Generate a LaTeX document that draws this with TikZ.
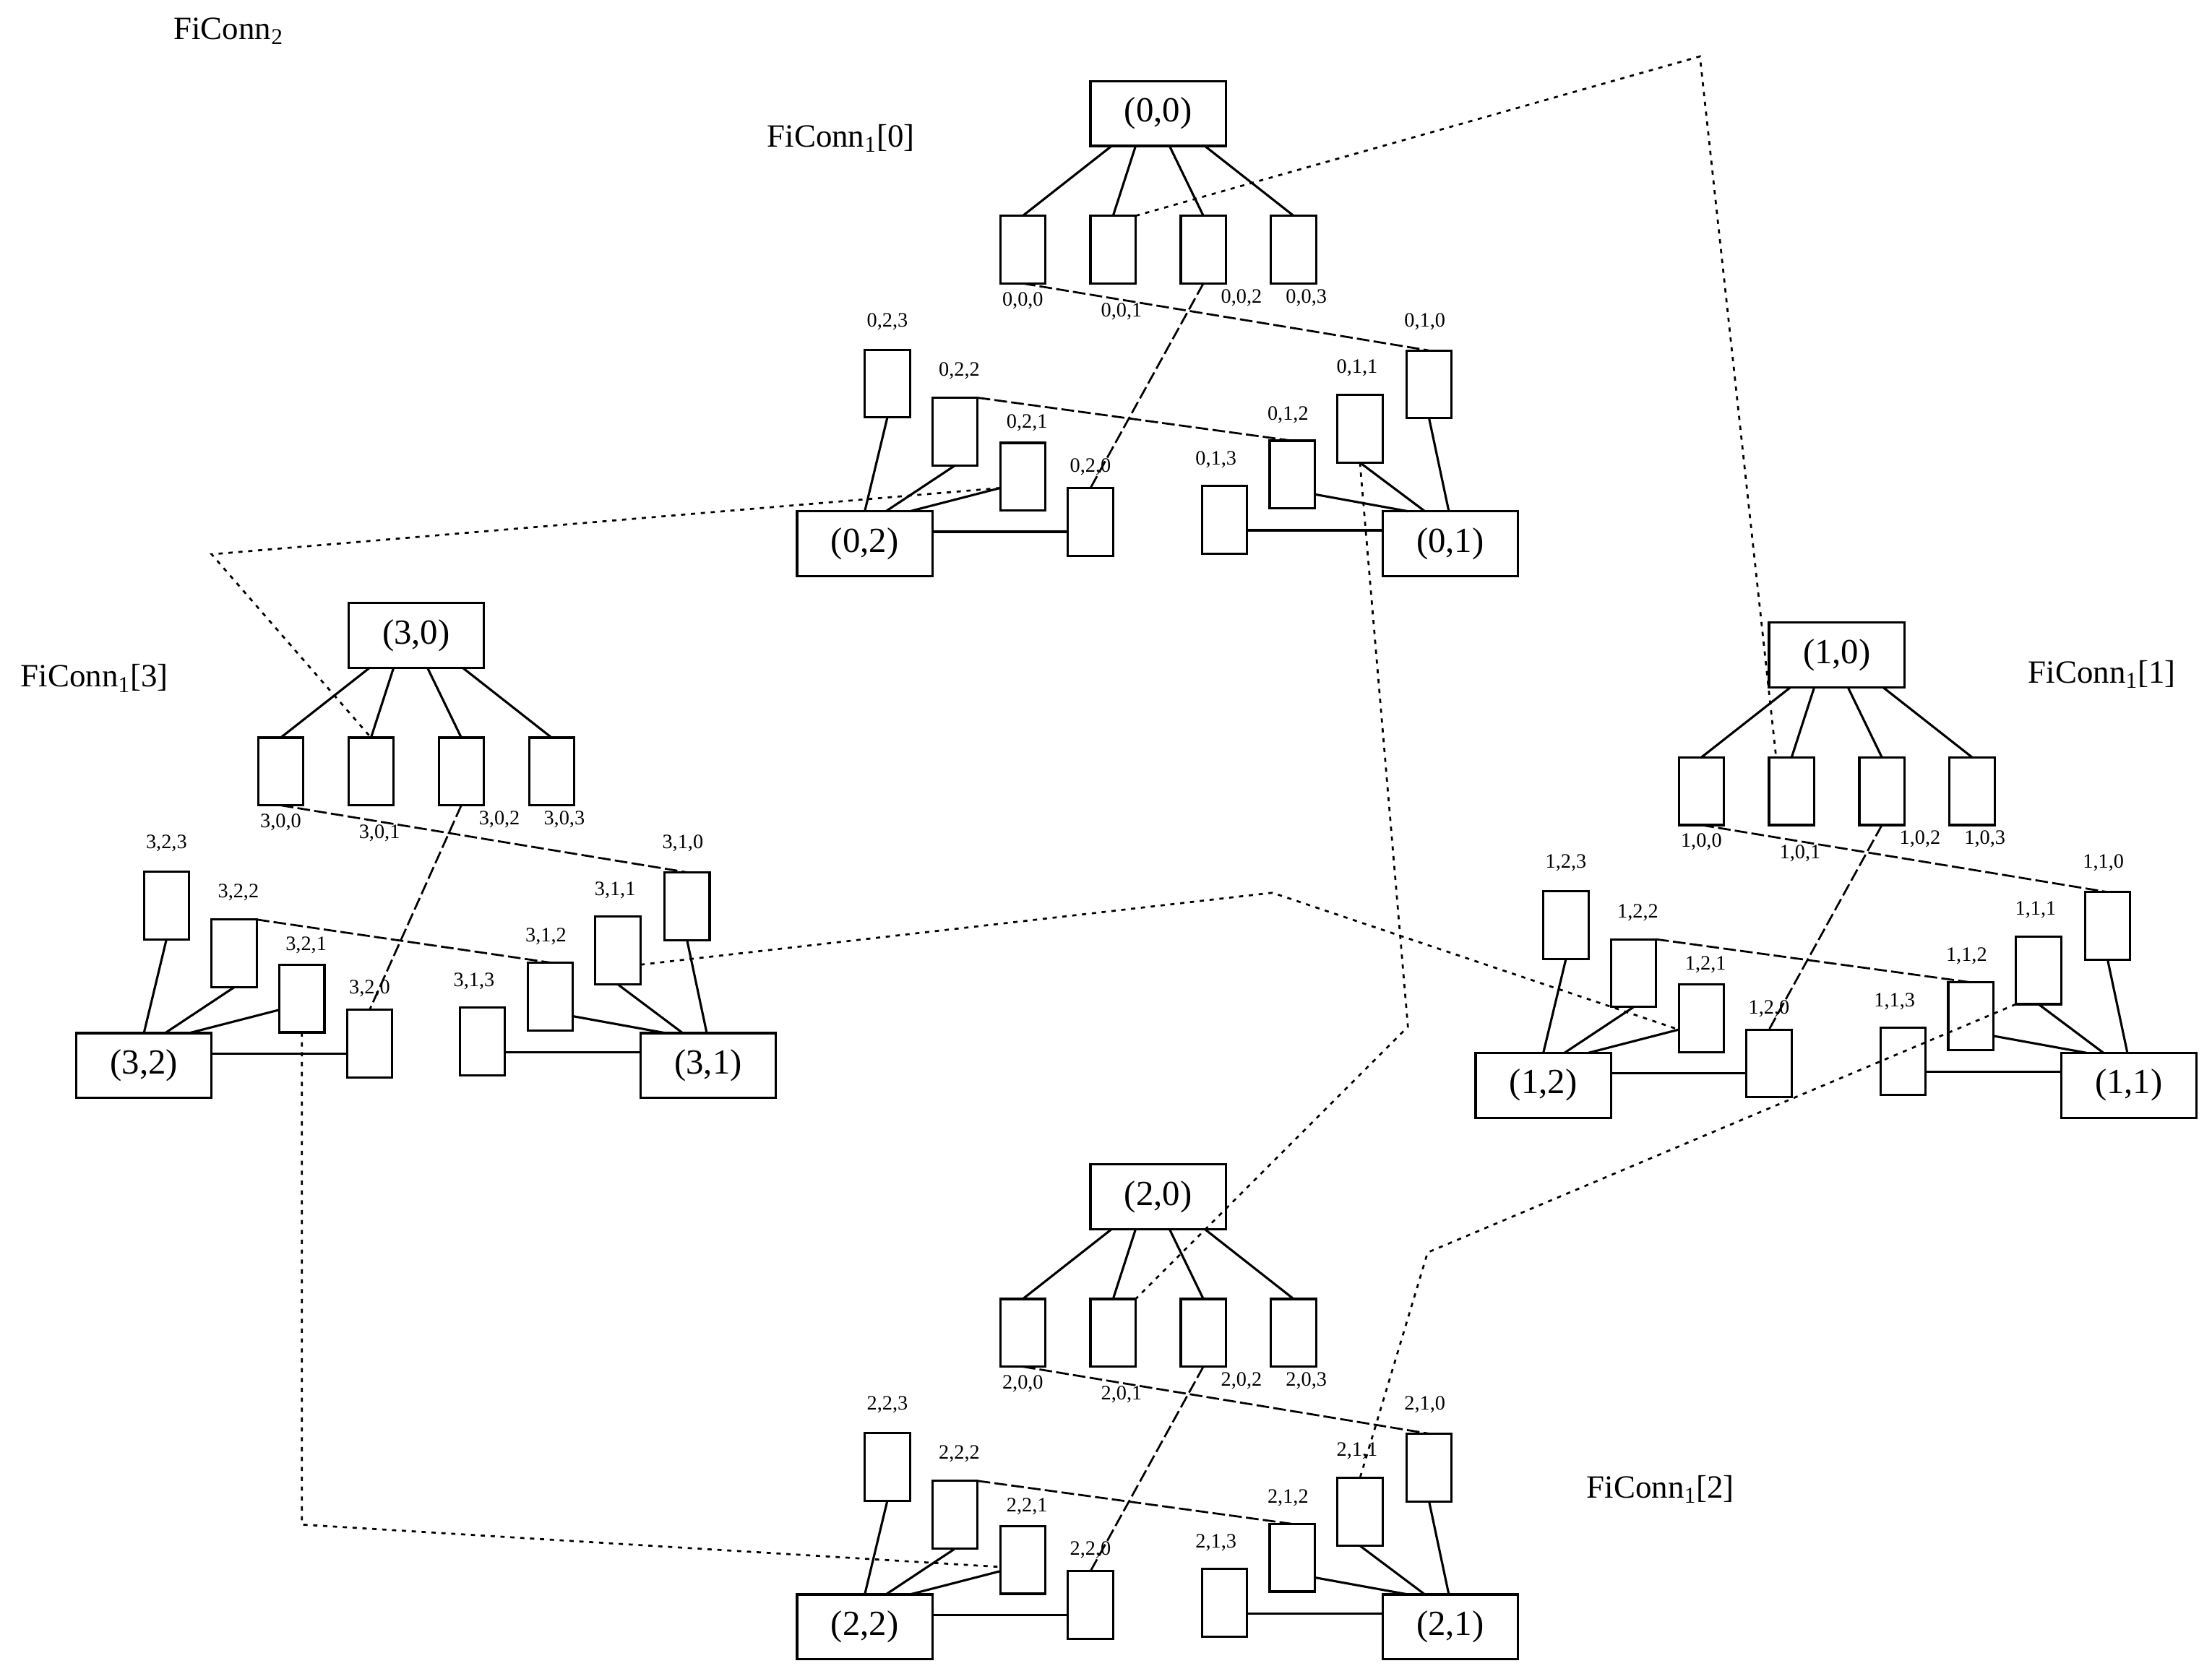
\documentclass[tikz,border=0pt]{standalone}
\usepackage{fontspec}
\setmainfont{Liberation Serif}
\usetikzlibrary{calc}
\begin{document}
\begin{tikzpicture}[x=1pt,y=-1pt,
 box/.style={draw,line width=1.6pt,minimum width=96pt,minimum height=46pt,inner sep=0,outer sep=0,font=\fontsize{25}{25}\selectfont},
 sw/.style={draw,line width=1.6pt,minimum width=32pt,minimum height=48pt,inner sep=0,outer sep=0},
 lab/.style={font=\fontsize{14.5}{14.5}\selectfont,inner sep=0},
 big/.style={font=\fontsize{23}{23}\selectfont,inner sep=0},
 ln/.style={line width=1.6pt},
 dsh/.style={line width=1.4pt,dash pattern=on 9pt off 3pt},
 dot/.style={line width=1.4pt,dash pattern=on 3pt off 4pt}]
\useasboundingbox (0,0) rectangle (1568,1190);
\newcommand{\fcluster}[4]{%
\begin{scope}[shift={(#2,#3)}]
 \node[box] (#1T) at (821,80.5) {(#1,0)};
 \node[box] (#1R) at (1028,385.5) {(#1,1)};
 \foreach \i/\x in {0/725,1/789,2/853,3/917} \node[sw] (#1s0\i) at (\x,177) {};
 \node[lab] at (725,213) {#1,0,0};
 \node[lab] at (795,221) {#1,0,1};
 \node[lab] at (880,211) {#1,0,2};
 \node[lab] at (926,211) {#1,0,3};
 \node[sw] (#1s13) at (868,368.5) {};
 \node[sw] (#1s12) at (916,336.5) {};
 \node[sw] (#1s11) at (964,304) {};
 \node[sw] (#1s10) at (1013,272.5) {};
 \node[lab] at (862,326) {#1,1,3};
 \node[lab] at (913,294) {#1,1,2};
 \node[lab] at (962,261) {#1,1,1};
 \node[lab] at (1010,228) {#1,1,0};
 \begin{scope}[xshift=#4]
 \node[box] (#1L) at (613,385.5) {(#1,2)};
 \node[sw] (#1s23) at (629,272) {};
 \node[sw] (#1s22) at (677,306) {};
 \node[sw] (#1s21) at (725,338) {};
 \node[sw] (#1s20) at (773,370) {};
 \node[lab] at (629,228) {#1,2,3};
 \node[lab] at (680,263) {#1,2,2};
 \node[lab] at (728,300) {#1,2,1};
 \node[lab] at (773,331) {#1,2,0};
 \end{scope}
 \draw[ln] ([xshift=-33]#1T.south) -- (#1s00.north);
 \draw[ln] ([xshift=-16]#1T.south) -- (#1s01.north);
 \draw[ln] ([xshift=8]#1T.south) -- (#1s02.north);
 \draw[ln] ([xshift=33]#1T.south) -- (#1s03.north);
 \draw[ln] (#1s23.south) -- (#1L.north);
 \draw[ln] (#1s22.south) -- ([xshift=15]#1L.north);
 \draw[ln] ([yshift=-8]#1s21.west) -- ([xshift=32]#1L.north);
 \draw[ln] ([yshift=8.5]#1L.east) -- ([yshift=-7]#1s20.west);
 \draw[ln] ([yshift=-7.5]#1s13.east) -- ([yshift=9.5]#1R.west);
 \draw[ln] ([yshift=-14]#1s12.east) -- ([xshift=-30]#1R.north);
 \draw[ln] (#1s11.south) -- ([xshift=-18]#1R.north);
 \draw[ln] (#1s10.south) -- ([xshift=-1]#1R.north);
 \draw[dsh] (#1s00.south) -- (#1s10.north);
 \draw[dsh] (#1s02.south) -- (#1s20.north);
 \draw[dsh] (#1s22.north east) -- (#1s12.north);
\end{scope}}
\fcluster{0}{0}{0}{0}
\fcluster{1}{481}{384}{0}
\fcluster{2}{0}{768}{0}
\fcluster{3}{-526}{370}{15}
\node[big] at (162,22) {FiConn\textsubscript{2}};
\node[big] at (596,98) {FiConn\textsubscript{1}[0]};
\node[big] at (67,481) {FiConn\textsubscript{1}[3]};
\node[big] at (1490,478) {FiConn\textsubscript{1}[1]};
\node[big] at (1177,1056) {FiConn\textsubscript{1}[2]};
\coordinate (c1) at (1205,40);
\coordinate (c2) at (150,393);
\coordinate (c3) at (998,728);
\coordinate (c4) at (902,633);
\coordinate (c5) at (214,1081);
\coordinate (c6) at (1012,888);
\draw[dot] (0s01.north east) -- (c1) -- ([xshift=-11]1s01.north);
\draw[dot] ([yshift=-8]0s21.west) -- (c2) -- (3s01.north);
\draw[dot] ([xshift=0]0s11.south) -- (c3) -- (2s01.north east);
\draw[dot] ([yshift=-10]3s11.east) -- (c4) -- ([yshift=-8]1s21.west);
\draw[dot] (3s21.south) -- (c5) -- ([yshift=-5]2s21.west);
\draw[dot] (1s11.south west) -- (c6) -- (2s11.north);
\end{tikzpicture}
\end{document}
